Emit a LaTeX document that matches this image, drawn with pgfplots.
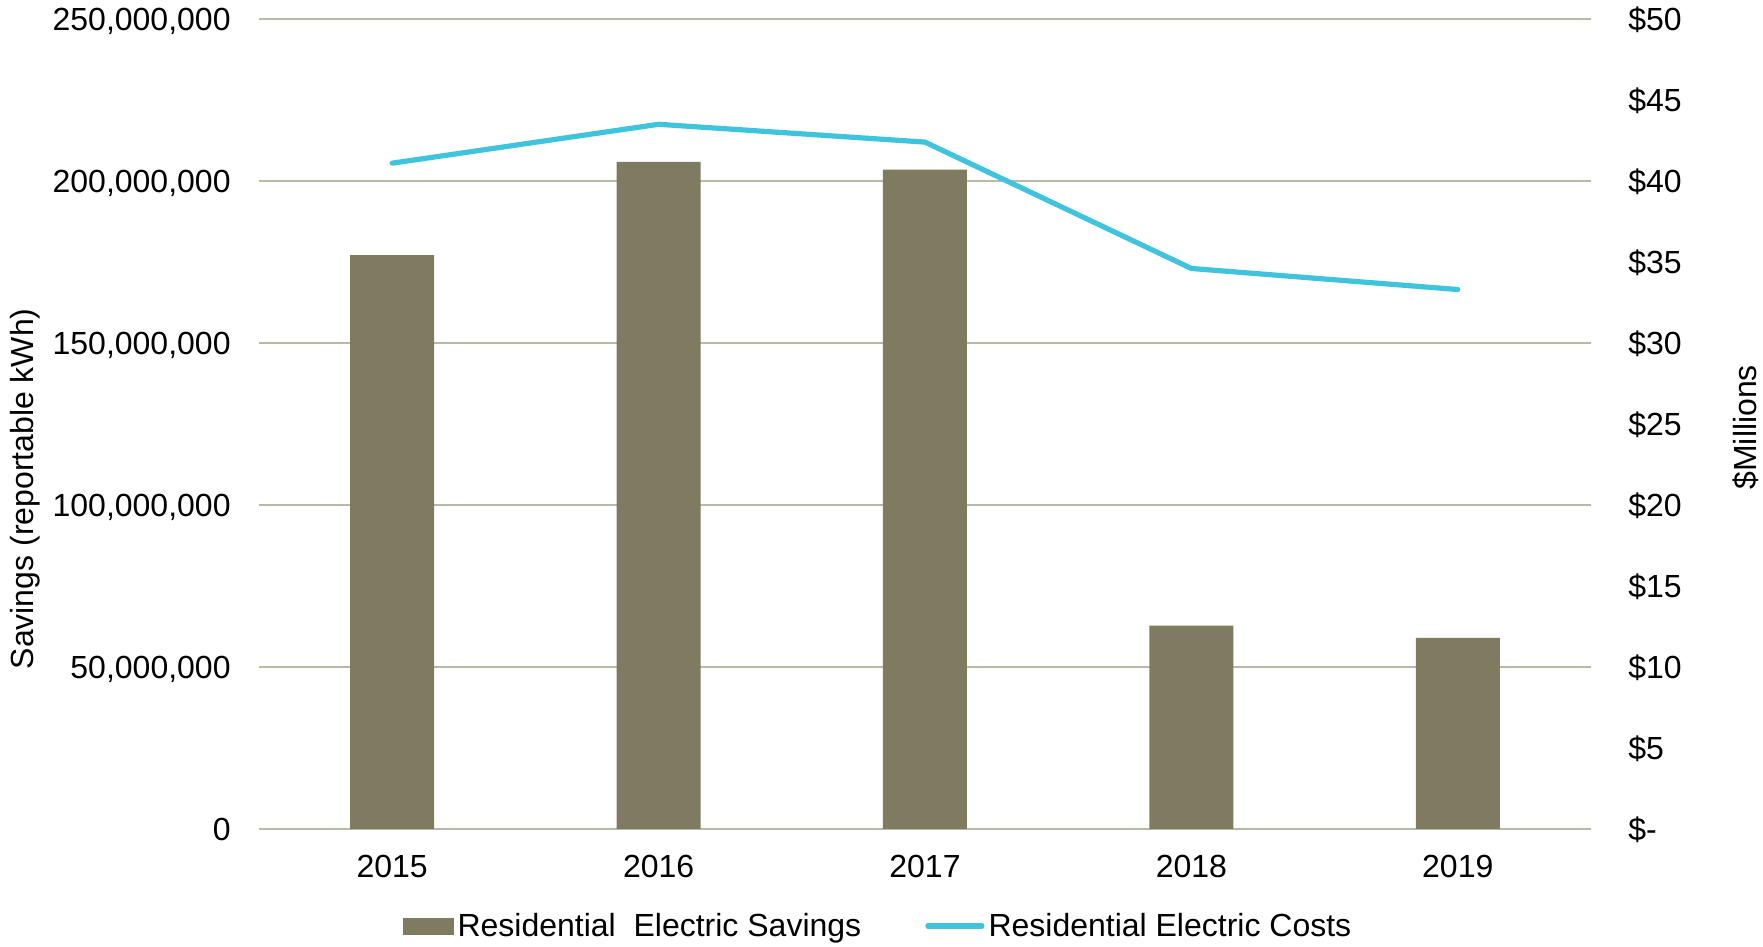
\documentclass[border=0pt]{standalone}
\usepackage{pgfplots}
\pgfplotsset{compat=1.18}
\usepackage{fontspec}
\setmainfont{Liberation Sans}
\definecolor{barc}{RGB}{127,123,96}
\definecolor{linec}{RGB}{64,196,222}
\definecolor{gridc}{RGB}{185,185,168}
\newcommand{\lbl}{\fontsize{16}{19}\selectfont}
\begin{document}
\begin{tikzpicture}
\useasboundingbox (-129.5pt,-59pt) rectangle (752pt,414.5pt);
\begin{axis}[
  scale only axis, width=666pt, height=405pt,
  xmin=-0.5, xmax=4.5, ymin=0, ymax=250000000,
  scaled y ticks=false,
  xtick={0,1,2,3,4}, xticklabels={2015,2016,2017,2018,2019},
  ytick={0,50000000,100000000,150000000,200000000,250000000},
  yticklabels={0,{50,000,000},{100,000,000},{150,000,000},{200,000,000},{250,000,000}},
  axis line style={draw=none},
  major tick length=0pt,
  ymajorgrids, grid style={gridc, line width=1pt},
  every tick label/.append style={font=\lbl, text=black, inner sep=0pt},
  yticklabel style={anchor=base east, xshift=-14pt, yshift=-5.75pt},
  xticklabel style={anchor=north, yshift=-13pt},
  every axis y label/.style={at={(axis description cs:-0.1757,0.42)}, rotate=90, anchor=center, font=\lbl},
  ylabel={Savings (reportable kWh)},
]
\addplot[ybar, bar width=42pt, fill=barc, draw=none] coordinates {
  (0,177100000) (1,205900000) (2,203500000) (3,62800000) (4,59000000)
};
\end{axis}
\begin{axis}[
  scale only axis, width=666pt, height=405pt,
  xmin=-0.5, xmax=4.5, ymin=0, ymax=50,
  hide x axis,
  ytick={0,5,10,15,20,25,30,35,40,45,50},
  yticklabels={\$-,\$5,\$10,\$15,\$20,\$25,\$30,\$35,\$40,\$45,\$50},
  yticklabel pos=right,
  axis line style={draw=none},
  major tick length=0pt,
  every tick label/.append style={font=\lbl, text=black, inner sep=0pt},
  yticklabel style={anchor=base west, xshift=18.5pt, yshift=-5.75pt},
  every axis y label/.style={at={(axis description cs:1.1164,0.496)}, rotate=90, anchor=center, font=\lbl},
  ylabel={\$Millions},
  legend columns=2,
  legend style={at={(axis description cs:0.4655,-0.1198)}, anchor=center, draw=none, fill=none, font=\lbl,
    /tikz/every even column/.append style={column sep=30pt}},
]
\addlegendimage{legend image code/.code={\fill[barc] (0pt,-4pt) rectangle (25pt,4pt);}}
\addlegendentry{Residential\ \ Electric Savings}
\addplot[linec, line width=2.6pt, line cap=round, line join=round,
  legend image code/.code={\draw[linec, line width=2.6pt, line cap=round] (0pt,0pt) -- (27pt,0pt);}]
  coordinates {(0,41.1) (1,43.5) (2,42.4) (3,34.6) (4,33.3)};
\addlegendentry{Residential Electric Costs}
\end{axis}
\end{tikzpicture}
\end{document}
